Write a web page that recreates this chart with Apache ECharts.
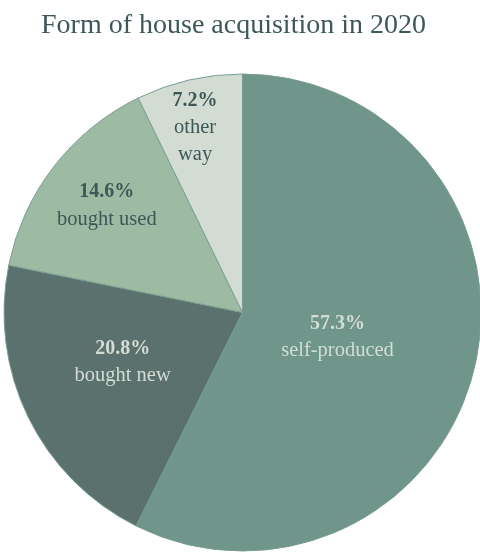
<!DOCTYPE html>
<html>
<head>
<meta charset="utf-8">
<script src="https://cdn.jsdelivr.net/npm/echarts@6/dist/echarts.min.js"></script>
<style>
  html, body { margin: 0; padding: 0; background: #fff; }
  #chart { width: 480px; height: 554px; }
</style>
</head>
<body>
<div id="chart"></div>
<script>
var names = ["self-produced", "bought new", "bought used", "other way"];
var labelNames = ["self-produced", "bought new", "bought used", "other\nway"];
var shares = [57.3, 20.8, 14.6, 7.2];
var colors = ["#70958a", "#5a716e", "#9dbaa3", "#d3dcd3"];
var textColors = ["#d3ddd3", "#d3ddd3", "#3d5858", "#3d5858"];

// nudges for the inside labels
var labelShift = [[-24, -3], [-10, -4], [-39, -32], [-20, -66]];

var chart = echarts.init(document.getElementById("chart"));

var seriesData = names.map(function (n, i) {
  return {
    name: n,
    value: shares[i],
    itemStyle: { color: colors[i] },
    label: {
      color: textColors[i],
      formatter: "{b|" + shares[i].toFixed(1) + "%}\n{n|" + labelNames[i] + "}",
      rich: {
        b: { fontWeight: "bold", color: textColors[i], fontSize: 20, lineHeight: 27, fontFamily: "Liberation Serif" },
        n: { color: textColors[i], fontSize: 20.5, lineHeight: 27, fontFamily: "Liberation Serif" }
      }
    }
  };
});

chart.setOption({
  animation: false,
  title: {
    text: "Form of house acquisition in 2020",
    left: 36,
    top: 7,
    textStyle: {
      fontFamily: "Liberation Serif",
      fontWeight: "normal",
      fontSize: 28,
      color: "#3d5858"
    }
  },
  series: [
    {
      type: "pie",
      center: [242.5, 312.5],
      radius: [0, 238.5],
      startAngle: 90,
      clockwise: true,
      data: seriesData,
      itemStyle: {
        borderColor: "#7a9e92",
        borderWidth: 1
      },
      label: {
        show: true,
        position: "inside",
        align: "center"
      },
      labelLine: { show: false },
      labelLayout: function (params) {
        var s = labelShift[params.dataIndex];
        return { dx: s[0], dy: s[1] };
      },
      emphasis: { disabled: true }
    }
  ]
});
</script>
</body>
</html>
